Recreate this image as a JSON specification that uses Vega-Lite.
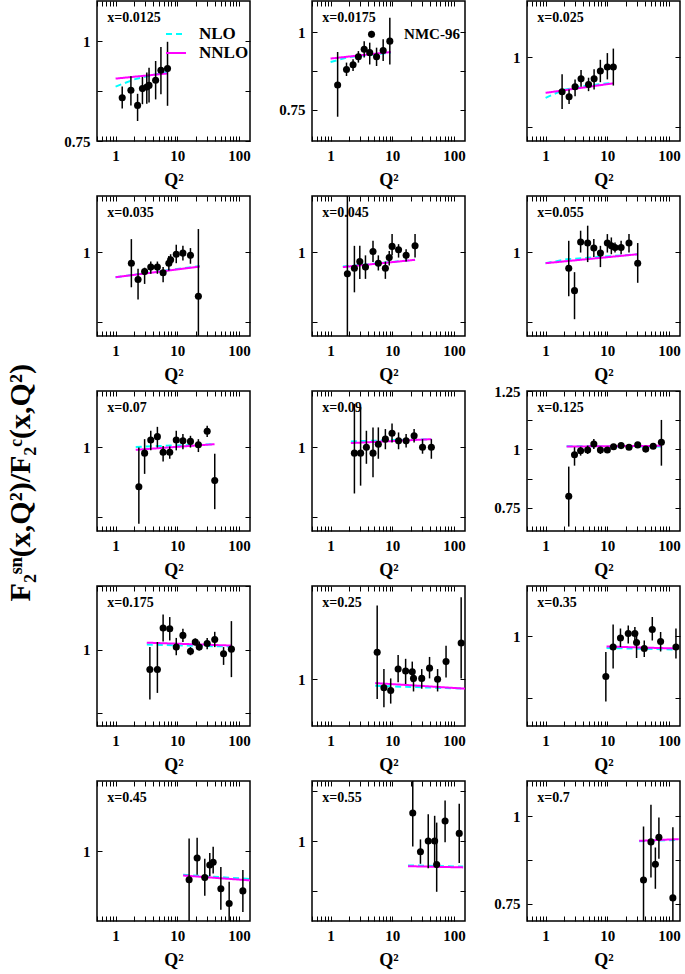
{
"$schema": "https://vega.github.io/schema/vega-lite/v6.json",
"padding": {"left": 5, "top": -1, "right": 0, "bottom": 0},
"background": "white",
"title": {"text": "F₂ˢⁿ(x,Q²)/F₂ᶜ(x,Q²)", "orient": "left", "anchor": "middle", "font": "Liberation Serif", "fontWeight": "bold", "fontSize": 30, "offset": 27, "dx": 2, "color": "black"},
"config": {
 "view": {"stroke": "black", "strokeWidth": 1.5},
 "axis": {"grid": false, "domain": false, "ticks": true, "tickColor": "black", "tickWidth": 1, "tickSize": -5, "labelFont": "Liberation Serif", "labelFontWeight": "bold", "labelFontSize": 15, "labelColor": "black", "titleFont": "Liberation Serif", "titleFontWeight": "bold", "titleFontSize": 18, "titleColor": "black"},
 "legend": {"labelFont": "Liberation Serif", "labelFontWeight": "bold", "labelFontSize": 17, "labelColor": "black"}
},
"datasets": {
"pts": [
{"p":"0.0125","Q2":1.28,"r":0.858,"lo":0.831,"hi":0.886},
{"p":"0.0125","Q2":1.77,"r":0.877,"lo":0.839,"hi":0.912},
{"p":"0.0125","Q2":2.27,"r":0.839,"lo":0.800,"hi":0.868},
{"p":"0.0125","Q2":2.72,"r":0.881,"lo":0.842,"hi":0.910},
{"p":"0.0125","Q2":3.2,"r":0.885,"lo":0.843,"hi":0.921},
{"p":"0.0125","Q2":3.48,"r":0.889,"lo":0.846,"hi":0.933},
{"p":"0.0125","Q2":4.45,"r":0.902,"lo":0.854,"hi":0.950},
{"p":"0.0125","Q2":5.42,"r":0.927,"lo":0.867,"hi":0.985},
{"p":"0.0125","Q2":6.93,"r":0.931,"lo":0.838,"hi":0.998},
{"p":"0.0175","Q2":1.30,"r":0.830,"lo":0.728,"hi":0.936},
{"p":"0.0175","Q2":1.81,"r":0.880,"lo":0.859,"hi":0.902},
{"p":"0.0175","Q2":2.31,"r":0.895,"lo":0.875,"hi":0.913},
{"p":"0.0175","Q2":2.82,"r":0.921,"lo":0.902,"hi":0.939},
{"p":"0.0175","Q2":3.5,"r":0.945,"lo":0.918,"hi":0.971},
{"p":"0.0175","Q2":4.3,"r":0.934,"lo":0.896,"hi":0.966},
{"p":"0.0175","Q2":4.6,"r":0.993,"lo":0.982,"hi":1.004},
{"p":"0.0175","Q2":5.55,"r":0.921,"lo":0.891,"hi":0.950},
{"p":"0.0175","Q2":7.1,"r":0.941,"lo":0.907,"hi":0.977},
{"p":"0.0175","Q2":9.1,"r":0.971,"lo":0.896,"hi":1.046},
{"p":"0.025","Q2":1.85,"r":0.938,"lo":0.907,"hi":0.969},
{"p":"0.025","Q2":2.4,"r":0.929,"lo":0.916,"hi":0.942},
{"p":"0.025","Q2":3.0,"r":0.947,"lo":0.930,"hi":0.960},
{"p":"0.025","Q2":3.75,"r":0.961,"lo":0.947,"hi":0.977},
{"p":"0.025","Q2":4.96,"r":0.951,"lo":0.939,"hi":0.963},
{"p":"0.025","Q2":6.1,"r":0.961,"lo":0.942,"hi":0.978},
{"p":"0.025","Q2":7.7,"r":0.975,"lo":0.955,"hi":0.995},
{"p":"0.025","Q2":10.0,"r":0.982,"lo":0.960,"hi":1.007},
{"p":"0.025","Q2":12.5,"r":0.982,"lo":0.949,"hi":1.015},
{"p":"0.035","Q2":1.8,"r":0.980,"lo":0.937,"hi":1.023},
{"p":"0.035","Q2":2.31,"r":0.951,"lo":0.915,"hi":0.970},
{"p":"0.035","Q2":2.95,"r":0.965,"lo":0.943,"hi":0.972},
{"p":"0.035","Q2":3.71,"r":0.973,"lo":0.961,"hi":0.983},
{"p":"0.035","Q2":4.75,"r":0.973,"lo":0.961,"hi":0.983},
{"p":"0.035","Q2":5.88,"r":0.963,"lo":0.946,"hi":0.973},
{"p":"0.035","Q2":7.28,"r":0.980,"lo":0.967,"hi":0.993},
{"p":"0.035","Q2":7.78,"r":0.986,"lo":0.976,"hi":0.996},
{"p":"0.035","Q2":9.6,"r":0.996,"lo":0.980,"hi":1.013},
{"p":"0.035","Q2":12.3,"r":0.998,"lo":0.985,"hi":1.011},
{"p":"0.035","Q2":16.3,"r":0.994,"lo":0.979,"hi":1.007},
{"p":"0.035","Q2":21.9,"r":0.921,"lo":0.840,"hi":1.041},
{"p":"0.045","Q2":1.87,"r":0.961,"lo":0.840,"hi":1.120},
{"p":"0.045","Q2":2.43,"r":0.971,"lo":0.928,"hi":1.011},
{"p":"0.045","Q2":2.97,"r":0.983,"lo":0.952,"hi":1.011},
{"p":"0.045","Q2":3.67,"r":0.973,"lo":0.952,"hi":0.994},
{"p":"0.045","Q2":4.86,"r":1.001,"lo":0.982,"hi":1.020},
{"p":"0.045","Q2":5.93,"r":0.980,"lo":0.967,"hi":0.994},
{"p":"0.045","Q2":7.71,"r":0.971,"lo":0.952,"hi":0.983},
{"p":"0.045","Q2":8.9,"r":0.990,"lo":0.976,"hi":1.002},
{"p":"0.045","Q2":9.9,"r":1.010,"lo":0.994,"hi":1.032},
{"p":"0.045","Q2":12.6,"r":1.004,"lo":0.990,"hi":1.014},
{"p":"0.045","Q2":16.7,"r":0.994,"lo":0.983,"hi":1.005},
{"p":"0.045","Q2":23.3,"r":1.011,"lo":0.990,"hi":1.032},
{"p":"0.055","Q2":2.37,"r":0.971,"lo":0.921,"hi":1.020},
{"p":"0.055","Q2":2.94,"r":0.931,"lo":0.880,"hi":0.964},
{"p":"0.055","Q2":3.69,"r":1.018,"lo":0.999,"hi":1.038},
{"p":"0.055","Q2":4.8,"r":1.016,"lo":0.982,"hi":1.047},
{"p":"0.055","Q2":6.04,"r":1.007,"lo":0.991,"hi":1.023},
{"p":"0.055","Q2":7.72,"r":0.998,"lo":0.973,"hi":1.011},
{"p":"0.055","Q2":10.0,"r":1.016,"lo":0.999,"hi":1.032},
{"p":"0.055","Q2":11.6,"r":1.011,"lo":0.996,"hi":1.026},
{"p":"0.055","Q2":13.3,"r":1.008,"lo":0.999,"hi":1.017},
{"p":"0.055","Q2":16.7,"r":1.008,"lo":0.996,"hi":1.020},
{"p":"0.055","Q2":22.4,"r":1.016,"lo":0.999,"hi":1.032},
{"p":"0.055","Q2":31,"r":0.980,"lo":0.945,"hi":1.016},
{"p":"0.07","Q2":2.38,"r":0.929,"lo":0.863,"hi":0.999},
{"p":"0.07","Q2":2.95,"r":0.989,"lo":0.952,"hi":1.014},
{"p":"0.07","Q2":3.71,"r":1.0125,"lo":0.994,"hi":1.029},
{"p":"0.07","Q2":4.75,"r":1.0185,"lo":0.999,"hi":1.036},
{"p":"0.07","Q2":5.88,"r":0.9905,"lo":0.974,"hi":1.002},
{"p":"0.07","Q2":7.53,"r":0.9905,"lo":0.979,"hi":1.001},
{"p":"0.07","Q2":9.6,"r":1.0125,"lo":0.994,"hi":1.029},
{"p":"0.07","Q2":12.3,"r":1.011,"lo":0.996,"hi":1.023},
{"p":"0.07","Q2":16.3,"r":1.010,"lo":0.999,"hi":1.020},
{"p":"0.07","Q2":21.9,"r":1.004,"lo":0.991,"hi":1.014},
{"p":"0.07","Q2":30.4,"r":1.028,"lo":1.018,"hi":1.038},
{"p":"0.07","Q2":40.3,"r":0.940,"lo":0.889,"hi":0.988},
{"p":"0.09","Q2":2.43,"r":0.989,"lo":0.917,"hi":1.077},
{"p":"0.09","Q2":3.06,"r":0.989,"lo":0.931,"hi":1.071},
{"p":"0.09","Q2":3.8,"r":0.9995,"lo":0.970,"hi":1.029},
{"p":"0.09","Q2":4.86,"r":0.989,"lo":0.946,"hi":1.035},
{"p":"0.09","Q2":5.93,"r":1.005,"lo":0.979,"hi":1.035},
{"p":"0.09","Q2":7.71,"r":1.014,"lo":0.996,"hi":1.032},
{"p":"0.09","Q2":9.88,"r":1.0245,"lo":1.008,"hi":1.042},
{"p":"0.09","Q2":12.6,"r":1.011,"lo":0.996,"hi":1.026},
{"p":"0.09","Q2":16.7,"r":1.011,"lo":0.999,"hi":1.023},
{"p":"0.09","Q2":22.5,"r":1.020,"lo":1.008,"hi":1.032},
{"p":"0.09","Q2":30.8,"r":0.9995,"lo":0.988,"hi":1.014},
{"p":"0.09","Q2":42.8,"r":0.9995,"lo":0.979,"hi":1.014},
{"p":"0.125","Q2":2.37,"r":0.799,"lo":0.669,"hi":0.926},
{"p":"0.125","Q2":2.94,"r":0.977,"lo":0.930,"hi":1.009},
{"p":"0.125","Q2":3.69,"r":0.994,"lo":0.973,"hi":1.011},
{"p":"0.125","Q2":4.8,"r":0.997,"lo":0.980,"hi":1.016},
{"p":"0.125","Q2":6.04,"r":1.023,"lo":1.001,"hi":1.044},
{"p":"0.125","Q2":7.72,"r":0.997,"lo":0.980,"hi":1.011},
{"p":"0.125","Q2":10.0,"r":0.997,"lo":0.987,"hi":1.007},
{"p":"0.125","Q2":12.6,"r":1.011,"lo":1.001,"hi":1.021},
{"p":"0.125","Q2":16.7,"r":1.016,"lo":1.006,"hi":1.026},
{"p":"0.125","Q2":22.4,"r":1.009,"lo":0.999,"hi":1.019},
{"p":"0.125","Q2":31,"r":1.019,"lo":1.009,"hi":1.029},
{"p":"0.125","Q2":41.8,"r":1.001,"lo":0.991,"hi":1.011},
{"p":"0.125","Q2":55.2,"r":1.013,"lo":1.003,"hi":1.023},
{"p":"0.125","Q2":75,"r":1.030,"lo":0.930,"hi":1.126},
{"p":"0.175","Q2":3.59,"r":0.961,"lo":0.902,"hi":1.005},
{"p":"0.175","Q2":4.75,"r":0.961,"lo":0.915,"hi":1.015},
{"p":"0.175","Q2":5.88,"r":1.0425,"lo":1.016,"hi":1.069},
{"p":"0.175","Q2":7.53,"r":1.041,"lo":1.018,"hi":1.064},
{"p":"0.175","Q2":9.6,"r":1.005,"lo":0.989,"hi":1.023},
{"p":"0.175","Q2":12.3,"r":1.028,"lo":1.015,"hi":1.041},
{"p":"0.175","Q2":16.3,"r":0.997,"lo":0.989,"hi":1.005},
{"p":"0.175","Q2":19.5,"r":1.015,"lo":1.008,"hi":1.022},
{"p":"0.175","Q2":22.6,"r":1.005,"lo":0.999,"hi":1.016},
{"p":"0.175","Q2":30.4,"r":1.012,"lo":1.001,"hi":1.023},
{"p":"0.175","Q2":40.3,"r":1.020,"lo":1.005,"hi":1.035},
{"p":"0.175","Q2":56,"r":0.992,"lo":0.970,"hi":1.005},
{"p":"0.175","Q2":75,"r":1.001,"lo":0.946,"hi":1.056},
{"p":"0.25","Q2":5.68,"r":1.029,"lo":0.979,"hi":1.079},
{"p":"0.25","Q2":7.3,"r":0.991,"lo":0.970,"hi":1.011},
{"p":"0.25","Q2":9.4,"r":0.988,"lo":0.974,"hi":1.001},
{"p":"0.25","Q2":12.4,"r":1.011,"lo":0.997,"hi":1.026},
{"p":"0.25","Q2":16.4,"r":1.009,"lo":0.995,"hi":1.022},
{"p":"0.25","Q2":21,"r":1.008,"lo":0.997,"hi":1.019},
{"p":"0.25","Q2":22,"r":1.001,"lo":0.987,"hi":1.011},
{"p":"0.25","Q2":29.9,"r":1.001,"lo":0.990,"hi":1.011},
{"p":"0.25","Q2":40,"r":1.012,"lo":1.001,"hi":1.024},
{"p":"0.25","Q2":54,"r":1.000,"lo":0.987,"hi":1.011},
{"p":"0.25","Q2":74,"r":1.019,"lo":1.002,"hi":1.036},
{"p":"0.25","Q2":130,"r":1.039,"lo":1.001,"hi":1.088},
{"p":"0.35","Q2":9.45,"r":0.919,"lo":0.869,"hi":0.968},
{"p":"0.35","Q2":12.4,"r":0.978,"lo":0.935,"hi":1.023},
{"p":"0.35","Q2":16.3,"r":0.996,"lo":0.978,"hi":1.015},
{"p":"0.35","Q2":21.8,"r":1.005,"lo":0.985,"hi":1.021},
{"p":"0.35","Q2":27.9,"r":1.005,"lo":0.988,"hi":1.018},
{"p":"0.35","Q2":29.7,"r":0.987,"lo":0.956,"hi":1.008},
{"p":"0.35","Q2":39.6,"r":0.975,"lo":0.958,"hi":0.991},
{"p":"0.35","Q2":53.4,"r":1.013,"lo":0.991,"hi":1.038},
{"p":"0.35","Q2":72.8,"r":0.989,"lo":0.969,"hi":1.008},
{"p":"0.35","Q2":129,"r":0.978,"lo":0.955,"hi":1.015},
{"p":"0.45","Q2":15.5,"r":0.959,"lo":0.890,"hi":1.018},
{"p":"0.45","Q2":20.9,"r":0.990,"lo":0.966,"hi":1.019},
{"p":"0.45","Q2":27.8,"r":0.962,"lo":0.936,"hi":0.989},
{"p":"0.45","Q2":33.5,"r":0.980,"lo":0.964,"hi":0.997},
{"p":"0.45","Q2":38,"r":0.984,"lo":0.968,"hi":1.006},
{"p":"0.45","Q2":50.6,"r":0.946,"lo":0.916,"hi":0.977},
{"p":"0.45","Q2":69,"r":0.925,"lo":0.890,"hi":0.956},
{"p":"0.45","Q2":115,"r":0.943,"lo":0.913,"hi":0.973},
{"p":"0.55","Q2":21.4,"r":1.070,"lo":0.986,"hi":1.170},
{"p":"0.55","Q2":28.5,"r":0.973,"lo":0.943,"hi":1.004},
{"p":"0.55","Q2":38.1,"r":1.000,"lo":0.932,"hi":1.067},
{"p":"0.55","Q2":48.4,"r":1.000,"lo":0.937,"hi":1.063},
{"p":"0.55","Q2":52.2,"r":0.941,"lo":0.873,"hi":1.046},
{"p":"0.55","Q2":71.4,"r":1.050,"lo":0.997,"hi":1.101},
{"p":"0.55","Q2":121,"r":1.019,"lo":0.945,"hi":1.093},
{"p":"0.7","Q2":38.5,"r":0.817,"lo":0.690,"hi":0.970},
{"p":"0.7","Q2":50.8,"r":0.926,"lo":0.824,"hi":1.032},
{"p":"0.7","Q2":59.9,"r":0.862,"lo":0.792,"hi":0.910},
{"p":"0.7","Q2":68.3,"r":0.939,"lo":0.878,"hi":0.996},
{"p":"0.7","Q2":115,"r":0.766,"lo":0.690,"hi":0.968}
],
"th": [
{"p":"0.0125","model":"NLO","Q2":1,"r":0.886},{"p":"0.0125","model":"NLO","Q2":2,"r":0.904},{"p":"0.0125","model":"NLO","Q2":4,"r":0.915},{"p":"0.0125","model":"NLO","Q2":7,"r":0.9225},
{"p":"0.0125","model":"NNLO","Q2":1,"r":0.906},{"p":"0.0125","model":"NNLO","Q2":7,"r":0.919},
{"p":"0.0175","model":"NLO","Q2":1,"r":0.904},{"p":"0.0175","model":"NLO","Q2":2,"r":0.920},{"p":"0.0175","model":"NLO","Q2":9.4,"r":0.934},
{"p":"0.0175","model":"NNLO","Q2":1,"r":0.915},{"p":"0.0175","model":"NNLO","Q2":9.4,"r":0.936},
{"p":"0.025","model":"NLO","Q2":1,"r":0.927},{"p":"0.025","model":"NLO","Q2":1.9,"r":0.941},{"p":"0.025","model":"NLO","Q2":4,"r":0.948},{"p":"0.025","model":"NLO","Q2":12.5,"r":0.954},
{"p":"0.025","model":"NNLO","Q2":1,"r":0.936},{"p":"0.025","model":"NNLO","Q2":12.5,"r":0.953},
{"p":"0.035","model":"NLO","Q2":1,"r":0.955},{"p":"0.035","model":"NLO","Q2":23,"r":0.975},
{"p":"0.035","model":"NNLO","Q2":1,"r":0.955},{"p":"0.035","model":"NNLO","Q2":23,"r":0.974},
{"p":"0.045","model":"NLO","Q2":1.58,"r":0.974},{"p":"0.045","model":"NLO","Q2":23.3,"r":0.986},
{"p":"0.045","model":"NNLO","Q2":1.58,"r":0.973},{"p":"0.045","model":"NNLO","Q2":23.3,"r":0.986},
{"p":"0.055","model":"NLO","Q2":1,"r":0.980},{"p":"0.055","model":"NLO","Q2":2.2,"r":0.987},{"p":"0.055","model":"NLO","Q2":31,"r":0.996},
{"p":"0.055","model":"NNLO","Q2":1,"r":0.980},{"p":"0.055","model":"NNLO","Q2":31,"r":0.996},
{"p":"0.07","model":"NLO","Q2":2.12,"r":1.000},{"p":"0.07","model":"NLO","Q2":3,"r":1.001},{"p":"0.07","model":"NLO","Q2":40,"r":1.005},
{"p":"0.07","model":"NNLO","Q2":2.12,"r":0.995},{"p":"0.07","model":"NNLO","Q2":40,"r":1.005},
{"p":"0.09","model":"NLO","Q2":2.13,"r":1.010},{"p":"0.09","model":"NLO","Q2":42.8,"r":1.014},
{"p":"0.09","model":"NNLO","Q2":2.13,"r":1.007},{"p":"0.09","model":"NNLO","Q2":42.8,"r":1.014},
{"p":"0.125","model":"NLO","Q2":2.19,"r":1.013},{"p":"0.125","model":"NLO","Q2":75,"r":1.012},
{"p":"0.125","model":"NNLO","Q2":2.19,"r":1.012},{"p":"0.125","model":"NNLO","Q2":75,"r":1.015},
{"p":"0.175","model":"NLO","Q2":3.2,"r":1.010},{"p":"0.175","model":"NLO","Q2":75,"r":1.006},
{"p":"0.175","model":"NNLO","Q2":3.2,"r":1.0137},{"p":"0.175","model":"NNLO","Q2":75,"r":1.008},
{"p":"0.25","model":"NLO","Q2":5.27,"r":0.993},{"p":"0.25","model":"NLO","Q2":150,"r":0.990},
{"p":"0.25","model":"NNLO","Q2":5.27,"r":0.996},{"p":"0.25","model":"NNLO","Q2":150,"r":0.990},
{"p":"0.35","model":"NLO","Q2":9.7,"r":0.976},{"p":"0.35","model":"NLO","Q2":129,"r":0.973},
{"p":"0.35","model":"NNLO","Q2":9.7,"r":0.979},{"p":"0.35","model":"NNLO","Q2":129,"r":0.975},
{"p":"0.45","model":"NLO","Q2":12.4,"r":0.966},{"p":"0.45","model":"NLO","Q2":150,"r":0.960},
{"p":"0.45","model":"NNLO","Q2":12.4,"r":0.965},{"p":"0.45","model":"NNLO","Q2":150,"r":0.958},
{"p":"0.55","model":"NLO","Q2":17.9,"r":0.939},{"p":"0.55","model":"NLO","Q2":140,"r":0.936},
{"p":"0.55","model":"NNLO","Q2":17.9,"r":0.937},{"p":"0.55","model":"NNLO","Q2":140,"r":0.934},
{"p":"0.7","model":"NLO","Q2":32.7,"r":0.928},{"p":"0.7","model":"NLO","Q2":143,"r":0.932},
{"p":"0.7","model":"NNLO","Q2":32.7,"r":0.929},{"p":"0.7","model":"NNLO","Q2":143,"r":0.934}
]
},
"columns": 3,
"spacing": {"row": 55, "column": 62},
"bounds": "flush",
"concat": [
{"width":153,"height":140,"resolve":{"axis":{"x":"independent","y":"independent"}},"layer":[
 {"data":{"name":"th"},"transform":[{"filter":"datum.p == '0.0125'"}],"mark":{"type":"line","strokeWidth":2,"clip":true},"encoding":{"x":{"field":"Q2","type":"quantitative","scale":{"type":"log","domain":[0.5,150],"nice":false},"axis":{"orient":"bottom","values":[0.5,0.6,0.7,0.8,0.9,1,2,3,4,5,6,7,8,9,10,20,30,40,50,60,70,80,90,100],"labelExpr":"datum.value == 1 || datum.value == 10 || datum.value == 100 ? format(datum.value, 'd') : ''","labelPadding":12,"title":"Q²","titlePadding":8}},"y":{"field":"r","type":"quantitative","scale":{"domain":[0.75,1.1],"nice":false,"zero":false},"axis":{"orient":"left","values":[0.75,0.875,1],"labelExpr":"datum.value == 0.75 || datum.value == 1 || datum.value == 1.25 ? format(datum.value, '~g') : ''","labelPadding":12,"title":null}},"color":{"field":"model","type":"nominal","scale":{"domain":["NLO","NNLO"],"range":["#00ffff","#ff00ff"]},"legend":{"orient":"none","legendX":68,"legendY":22,"title":null,"symbolType":"stroke","symbolSize":400,"symbolStrokeWidth":2,"labelOffset":12,"rowPadding":0}},"strokeDash":{"field":"model","type":"nominal","scale":{"domain":["NLO","NNLO"],"range":[[6,4],[1,0]]},"legend":{"orient":"none","legendX":68,"legendY":22,"title":null,"symbolType":"stroke","symbolSize":400,"symbolStrokeWidth":2,"labelOffset":12,"rowPadding":0}}}},
 {"data":{"name":"pts"},"transform":[{"filter":"datum.p == '0.0125'"}],"mark":{"type":"rule","strokeWidth":1.5,"color":"black","clip":true},"encoding":{"x":{"field":"Q2","type":"quantitative","scale":{"type":"log","domain":[0.5,150],"nice":false},"axis":{"orient":"top","values":[0.5,0.6,0.7,0.8,0.9,1,2,3,4,5,6,7,8,9,10,20,30,40,50,60,70,80,90,100],"labels":false,"title":null}},"y":{"field":"lo","type":"quantitative","scale":{"domain":[0.75,1.1],"nice":false,"zero":false},"axis":{"orient":"right","values":[0.75,0.875,1],"labels":false,"title":null}},"y2":{"field":"hi"}}},
 {"data":{"name":"pts"},"transform":[{"filter":"datum.p == '0.0125'"}],"mark":{"type":"circle","size":50,"color":"black","opacity":1},"encoding":{"x":{"field":"Q2","type":"quantitative","scale":{"type":"log","domain":[0.5,150],"nice":false},"axis":null},"y":{"field":"r","type":"quantitative","scale":{"domain":[0.75,1.1],"nice":false,"zero":false},"axis":null}}},
 {"data":{"values":[{}]},"mark":{"type":"text","text":"x=0.0125","align":"left","baseline":"middle","font":"Liberation Serif","fontWeight":"bold","fontSize":14,"color":"black"},"encoding":{"x":{"datum":0.73,"type":"quantitative","scale":{"type":"log","domain":[0.5,150],"nice":false},"axis":null},"y":{"datum":1.0575,"type":"quantitative","scale":{"domain":[0.75,1.1],"nice":false,"zero":false},"axis":null}}}
]},
{"width":153,"height":140,"resolve":{"axis":{"x":"independent","y":"independent"}},"layer":[
 {"data":{"name":"th"},"transform":[{"filter":"datum.p == '0.0175'"}],"mark":{"type":"line","strokeWidth":2,"clip":true},"encoding":{"x":{"field":"Q2","type":"quantitative","scale":{"type":"log","domain":[0.5,150],"nice":false},"axis":{"orient":"bottom","values":[0.5,0.6,0.7,0.8,0.9,1,2,3,4,5,6,7,8,9,10,20,30,40,50,60,70,80,90,100],"labelExpr":"datum.value == 1 || datum.value == 10 || datum.value == 100 ? format(datum.value, 'd') : ''","labelPadding":12,"title":"Q²","titlePadding":8}},"y":{"field":"r","type":"quantitative","scale":{"domain":[0.65,1.1],"nice":false,"zero":false},"axis":{"orient":"left","values":[0.75,0.875,1],"labelExpr":"datum.value == 0.75 || datum.value == 1 || datum.value == 1.25 ? format(datum.value, '~g') : ''","labelPadding":12,"title":null}},"color":{"field":"model","type":"nominal","scale":{"domain":["NLO","NNLO"],"range":["#00ffff","#ff00ff"]},"legend":null},"strokeDash":{"field":"model","type":"nominal","scale":{"domain":["NLO","NNLO"],"range":[[6,4],[1,0]]},"legend":null}}},
 {"data":{"name":"pts"},"transform":[{"filter":"datum.p == '0.0175'"}],"mark":{"type":"rule","strokeWidth":1.5,"color":"black","clip":true},"encoding":{"x":{"field":"Q2","type":"quantitative","scale":{"type":"log","domain":[0.5,150],"nice":false},"axis":{"orient":"top","values":[0.5,0.6,0.7,0.8,0.9,1,2,3,4,5,6,7,8,9,10,20,30,40,50,60,70,80,90,100],"labels":false,"title":null}},"y":{"field":"lo","type":"quantitative","scale":{"domain":[0.65,1.1],"nice":false,"zero":false},"axis":{"orient":"right","values":[0.75,0.875,1],"labels":false,"title":null}},"y2":{"field":"hi"}}},
 {"data":{"name":"pts"},"transform":[{"filter":"datum.p == '0.0175'"}],"mark":{"type":"circle","size":50,"color":"black","opacity":1},"encoding":{"x":{"field":"Q2","type":"quantitative","scale":{"type":"log","domain":[0.5,150],"nice":false},"axis":null},"y":{"field":"r","type":"quantitative","scale":{"domain":[0.65,1.1],"nice":false,"zero":false},"axis":null}}},
 {"data":{"values":[{}]},"mark":{"type":"text","text":"x=0.0175","align":"left","baseline":"middle","font":"Liberation Serif","fontWeight":"bold","fontSize":14,"color":"black"},"encoding":{"x":{"datum":0.73,"type":"quantitative","scale":{"type":"log","domain":[0.5,150],"nice":false},"axis":null},"y":{"datum":1.045,"type":"quantitative","scale":{"domain":[0.65,1.1],"nice":false,"zero":false},"axis":null}}},
 {"data":{"values":[{}]},"mark":{"type":"text","text":"NMC-96","align":"left","baseline":"middle","font":"Liberation Serif","fontWeight":"bold","fontSize":15,"color":"black"},"encoding":{"x":{"datum":15.5,"type":"quantitative","scale":{"type":"log","domain":[0.5,150],"nice":false},"axis":null},"y":{"datum":0.994,"type":"quantitative","scale":{"domain":[0.65,1.1],"nice":false,"zero":false},"axis":null}}}
]},
{"width":153,"height":140,"resolve":{"axis":{"x":"independent","y":"independent"}},"layer":[
 {"data":{"name":"th"},"transform":[{"filter":"datum.p == '0.025'"}],"mark":{"type":"line","strokeWidth":2,"clip":true},"encoding":{"x":{"field":"Q2","type":"quantitative","scale":{"type":"log","domain":[0.5,150],"nice":false},"axis":{"orient":"bottom","values":[0.5,0.6,0.7,0.8,0.9,1,2,3,4,5,6,7,8,9,10,20,30,40,50,60,70,80,90,100],"labelExpr":"datum.value == 1 || datum.value == 10 || datum.value == 100 ? format(datum.value, 'd') : ''","labelPadding":12,"title":"Q²","titlePadding":8}},"y":{"field":"r","type":"quantitative","scale":{"domain":[0.85,1.1],"nice":false,"zero":false},"axis":{"orient":"left","values":[0.875,1],"labelExpr":"datum.value == 0.75 || datum.value == 1 || datum.value == 1.25 ? format(datum.value, '~g') : ''","labelPadding":12,"title":null}},"color":{"field":"model","type":"nominal","scale":{"domain":["NLO","NNLO"],"range":["#00ffff","#ff00ff"]},"legend":null},"strokeDash":{"field":"model","type":"nominal","scale":{"domain":["NLO","NNLO"],"range":[[6,4],[1,0]]},"legend":null}}},
 {"data":{"name":"pts"},"transform":[{"filter":"datum.p == '0.025'"}],"mark":{"type":"rule","strokeWidth":1.5,"color":"black","clip":true},"encoding":{"x":{"field":"Q2","type":"quantitative","scale":{"type":"log","domain":[0.5,150],"nice":false},"axis":{"orient":"top","values":[0.5,0.6,0.7,0.8,0.9,1,2,3,4,5,6,7,8,9,10,20,30,40,50,60,70,80,90,100],"labels":false,"title":null}},"y":{"field":"lo","type":"quantitative","scale":{"domain":[0.85,1.1],"nice":false,"zero":false},"axis":{"orient":"right","values":[0.875,1],"labels":false,"title":null}},"y2":{"field":"hi"}}},
 {"data":{"name":"pts"},"transform":[{"filter":"datum.p == '0.025'"}],"mark":{"type":"circle","size":50,"color":"black","opacity":1},"encoding":{"x":{"field":"Q2","type":"quantitative","scale":{"type":"log","domain":[0.5,150],"nice":false},"axis":null},"y":{"field":"r","type":"quantitative","scale":{"domain":[0.85,1.1],"nice":false,"zero":false},"axis":null}}},
 {"data":{"values":[{}]},"mark":{"type":"text","text":"x=0.025","align":"left","baseline":"middle","font":"Liberation Serif","fontWeight":"bold","fontSize":14,"color":"black"},"encoding":{"x":{"datum":0.73,"type":"quantitative","scale":{"type":"log","domain":[0.5,150],"nice":false},"axis":null},"y":{"datum":1.07,"type":"quantitative","scale":{"domain":[0.85,1.1],"nice":false,"zero":false},"axis":null}}}
]},
{"width":153,"height":140,"resolve":{"axis":{"x":"independent","y":"independent"}},"layer":[
 {"data":{"name":"th"},"transform":[{"filter":"datum.p == '0.035'"}],"mark":{"type":"line","strokeWidth":2,"clip":true},"encoding":{"x":{"field":"Q2","type":"quantitative","scale":{"type":"log","domain":[0.5,150],"nice":false},"axis":{"orient":"bottom","values":[0.5,0.6,0.7,0.8,0.9,1,2,3,4,5,6,7,8,9,10,20,30,40,50,60,70,80,90,100],"labelExpr":"datum.value == 1 || datum.value == 10 || datum.value == 100 ? format(datum.value, 'd') : ''","labelPadding":12,"title":"Q²","titlePadding":8}},"y":{"field":"r","type":"quantitative","scale":{"domain":[0.85,1.1],"nice":false,"zero":false},"axis":{"orient":"left","values":[0.875,1],"labelExpr":"datum.value == 0.75 || datum.value == 1 || datum.value == 1.25 ? format(datum.value, '~g') : ''","labelPadding":12,"title":null}},"color":{"field":"model","type":"nominal","scale":{"domain":["NLO","NNLO"],"range":["#00ffff","#ff00ff"]},"legend":null},"strokeDash":{"field":"model","type":"nominal","scale":{"domain":["NLO","NNLO"],"range":[[6,4],[1,0]]},"legend":null}}},
 {"data":{"name":"pts"},"transform":[{"filter":"datum.p == '0.035'"}],"mark":{"type":"rule","strokeWidth":1.5,"color":"black","clip":true},"encoding":{"x":{"field":"Q2","type":"quantitative","scale":{"type":"log","domain":[0.5,150],"nice":false},"axis":{"orient":"top","values":[0.5,0.6,0.7,0.8,0.9,1,2,3,4,5,6,7,8,9,10,20,30,40,50,60,70,80,90,100],"labels":false,"title":null}},"y":{"field":"lo","type":"quantitative","scale":{"domain":[0.85,1.1],"nice":false,"zero":false},"axis":{"orient":"right","values":[0.875,1],"labels":false,"title":null}},"y2":{"field":"hi"}}},
 {"data":{"name":"pts"},"transform":[{"filter":"datum.p == '0.035'"}],"mark":{"type":"circle","size":50,"color":"black","opacity":1},"encoding":{"x":{"field":"Q2","type":"quantitative","scale":{"type":"log","domain":[0.5,150],"nice":false},"axis":null},"y":{"field":"r","type":"quantitative","scale":{"domain":[0.85,1.1],"nice":false,"zero":false},"axis":null}}},
 {"data":{"values":[{}]},"mark":{"type":"text","text":"x=0.035","align":"left","baseline":"middle","font":"Liberation Serif","fontWeight":"bold","fontSize":14,"color":"black"},"encoding":{"x":{"datum":0.73,"type":"quantitative","scale":{"type":"log","domain":[0.5,150],"nice":false},"axis":null},"y":{"datum":1.07,"type":"quantitative","scale":{"domain":[0.85,1.1],"nice":false,"zero":false},"axis":null}}}
]},
{"width":153,"height":140,"resolve":{"axis":{"x":"independent","y":"independent"}},"layer":[
 {"data":{"name":"th"},"transform":[{"filter":"datum.p == '0.045'"}],"mark":{"type":"line","strokeWidth":2,"clip":true},"encoding":{"x":{"field":"Q2","type":"quantitative","scale":{"type":"log","domain":[0.5,150],"nice":false},"axis":{"orient":"bottom","values":[0.5,0.6,0.7,0.8,0.9,1,2,3,4,5,6,7,8,9,10,20,30,40,50,60,70,80,90,100],"labelExpr":"datum.value == 1 || datum.value == 10 || datum.value == 100 ? format(datum.value, 'd') : ''","labelPadding":12,"title":"Q²","titlePadding":8}},"y":{"field":"r","type":"quantitative","scale":{"domain":[0.85,1.1],"nice":false,"zero":false},"axis":{"orient":"left","values":[0.875,1],"labelExpr":"datum.value == 0.75 || datum.value == 1 || datum.value == 1.25 ? format(datum.value, '~g') : ''","labelPadding":12,"title":null}},"color":{"field":"model","type":"nominal","scale":{"domain":["NLO","NNLO"],"range":["#00ffff","#ff00ff"]},"legend":null},"strokeDash":{"field":"model","type":"nominal","scale":{"domain":["NLO","NNLO"],"range":[[6,4],[1,0]]},"legend":null}}},
 {"data":{"name":"pts"},"transform":[{"filter":"datum.p == '0.045'"}],"mark":{"type":"rule","strokeWidth":1.5,"color":"black","clip":true},"encoding":{"x":{"field":"Q2","type":"quantitative","scale":{"type":"log","domain":[0.5,150],"nice":false},"axis":{"orient":"top","values":[0.5,0.6,0.7,0.8,0.9,1,2,3,4,5,6,7,8,9,10,20,30,40,50,60,70,80,90,100],"labels":false,"title":null}},"y":{"field":"lo","type":"quantitative","scale":{"domain":[0.85,1.1],"nice":false,"zero":false},"axis":{"orient":"right","values":[0.875,1],"labels":false,"title":null}},"y2":{"field":"hi"}}},
 {"data":{"name":"pts"},"transform":[{"filter":"datum.p == '0.045'"}],"mark":{"type":"circle","size":50,"color":"black","opacity":1},"encoding":{"x":{"field":"Q2","type":"quantitative","scale":{"type":"log","domain":[0.5,150],"nice":false},"axis":null},"y":{"field":"r","type":"quantitative","scale":{"domain":[0.85,1.1],"nice":false,"zero":false},"axis":null}}},
 {"data":{"values":[{}]},"mark":{"type":"text","text":"x=0.045","align":"left","baseline":"middle","font":"Liberation Serif","fontWeight":"bold","fontSize":14,"color":"black"},"encoding":{"x":{"datum":0.73,"type":"quantitative","scale":{"type":"log","domain":[0.5,150],"nice":false},"axis":null},"y":{"datum":1.07,"type":"quantitative","scale":{"domain":[0.85,1.1],"nice":false,"zero":false},"axis":null}}}
]},
{"width":153,"height":140,"resolve":{"axis":{"x":"independent","y":"independent"}},"layer":[
 {"data":{"name":"th"},"transform":[{"filter":"datum.p == '0.055'"}],"mark":{"type":"line","strokeWidth":2,"clip":true},"encoding":{"x":{"field":"Q2","type":"quantitative","scale":{"type":"log","domain":[0.5,150],"nice":false},"axis":{"orient":"bottom","values":[0.5,0.6,0.7,0.8,0.9,1,2,3,4,5,6,7,8,9,10,20,30,40,50,60,70,80,90,100],"labelExpr":"datum.value == 1 || datum.value == 10 || datum.value == 100 ? format(datum.value, 'd') : ''","labelPadding":12,"title":"Q²","titlePadding":8}},"y":{"field":"r","type":"quantitative","scale":{"domain":[0.85,1.1],"nice":false,"zero":false},"axis":{"orient":"left","values":[0.875,1],"labelExpr":"datum.value == 0.75 || datum.value == 1 || datum.value == 1.25 ? format(datum.value, '~g') : ''","labelPadding":12,"title":null}},"color":{"field":"model","type":"nominal","scale":{"domain":["NLO","NNLO"],"range":["#00ffff","#ff00ff"]},"legend":null},"strokeDash":{"field":"model","type":"nominal","scale":{"domain":["NLO","NNLO"],"range":[[6,4],[1,0]]},"legend":null}}},
 {"data":{"name":"pts"},"transform":[{"filter":"datum.p == '0.055'"}],"mark":{"type":"rule","strokeWidth":1.5,"color":"black","clip":true},"encoding":{"x":{"field":"Q2","type":"quantitative","scale":{"type":"log","domain":[0.5,150],"nice":false},"axis":{"orient":"top","values":[0.5,0.6,0.7,0.8,0.9,1,2,3,4,5,6,7,8,9,10,20,30,40,50,60,70,80,90,100],"labels":false,"title":null}},"y":{"field":"lo","type":"quantitative","scale":{"domain":[0.85,1.1],"nice":false,"zero":false},"axis":{"orient":"right","values":[0.875,1],"labels":false,"title":null}},"y2":{"field":"hi"}}},
 {"data":{"name":"pts"},"transform":[{"filter":"datum.p == '0.055'"}],"mark":{"type":"circle","size":50,"color":"black","opacity":1},"encoding":{"x":{"field":"Q2","type":"quantitative","scale":{"type":"log","domain":[0.5,150],"nice":false},"axis":null},"y":{"field":"r","type":"quantitative","scale":{"domain":[0.85,1.1],"nice":false,"zero":false},"axis":null}}},
 {"data":{"values":[{}]},"mark":{"type":"text","text":"x=0.055","align":"left","baseline":"middle","font":"Liberation Serif","fontWeight":"bold","fontSize":14,"color":"black"},"encoding":{"x":{"datum":0.73,"type":"quantitative","scale":{"type":"log","domain":[0.5,150],"nice":false},"axis":null},"y":{"datum":1.07,"type":"quantitative","scale":{"domain":[0.85,1.1],"nice":false,"zero":false},"axis":null}}}
]},
{"width":153,"height":140,"resolve":{"axis":{"x":"independent","y":"independent"}},"layer":[
 {"data":{"name":"th"},"transform":[{"filter":"datum.p == '0.07'"}],"mark":{"type":"line","strokeWidth":2,"clip":true},"encoding":{"x":{"field":"Q2","type":"quantitative","scale":{"type":"log","domain":[0.5,150],"nice":false},"axis":{"orient":"bottom","values":[0.5,0.6,0.7,0.8,0.9,1,2,3,4,5,6,7,8,9,10,20,30,40,50,60,70,80,90,100],"labelExpr":"datum.value == 1 || datum.value == 10 || datum.value == 100 ? format(datum.value, 'd') : ''","labelPadding":12,"title":"Q²","titlePadding":8}},"y":{"field":"r","type":"quantitative","scale":{"domain":[0.85,1.1],"nice":false,"zero":false},"axis":{"orient":"left","values":[0.875,1],"labelExpr":"datum.value == 0.75 || datum.value == 1 || datum.value == 1.25 ? format(datum.value, '~g') : ''","labelPadding":12,"title":null}},"color":{"field":"model","type":"nominal","scale":{"domain":["NLO","NNLO"],"range":["#00ffff","#ff00ff"]},"legend":null},"strokeDash":{"field":"model","type":"nominal","scale":{"domain":["NLO","NNLO"],"range":[[6,4],[1,0]]},"legend":null}}},
 {"data":{"name":"pts"},"transform":[{"filter":"datum.p == '0.07'"}],"mark":{"type":"rule","strokeWidth":1.5,"color":"black","clip":true},"encoding":{"x":{"field":"Q2","type":"quantitative","scale":{"type":"log","domain":[0.5,150],"nice":false},"axis":{"orient":"top","values":[0.5,0.6,0.7,0.8,0.9,1,2,3,4,5,6,7,8,9,10,20,30,40,50,60,70,80,90,100],"labels":false,"title":null}},"y":{"field":"lo","type":"quantitative","scale":{"domain":[0.85,1.1],"nice":false,"zero":false},"axis":{"orient":"right","values":[0.875,1],"labels":false,"title":null}},"y2":{"field":"hi"}}},
 {"data":{"name":"pts"},"transform":[{"filter":"datum.p == '0.07'"}],"mark":{"type":"circle","size":50,"color":"black","opacity":1},"encoding":{"x":{"field":"Q2","type":"quantitative","scale":{"type":"log","domain":[0.5,150],"nice":false},"axis":null},"y":{"field":"r","type":"quantitative","scale":{"domain":[0.85,1.1],"nice":false,"zero":false},"axis":null}}},
 {"data":{"values":[{}]},"mark":{"type":"text","text":"x=0.07","align":"left","baseline":"middle","font":"Liberation Serif","fontWeight":"bold","fontSize":14,"color":"black"},"encoding":{"x":{"datum":0.73,"type":"quantitative","scale":{"type":"log","domain":[0.5,150],"nice":false},"axis":null},"y":{"datum":1.07,"type":"quantitative","scale":{"domain":[0.85,1.1],"nice":false,"zero":false},"axis":null}}}
]},
{"width":153,"height":140,"resolve":{"axis":{"x":"independent","y":"independent"}},"layer":[
 {"data":{"name":"th"},"transform":[{"filter":"datum.p == '0.09'"}],"mark":{"type":"line","strokeWidth":2,"clip":true},"encoding":{"x":{"field":"Q2","type":"quantitative","scale":{"type":"log","domain":[0.5,150],"nice":false},"axis":{"orient":"bottom","values":[0.5,0.6,0.7,0.8,0.9,1,2,3,4,5,6,7,8,9,10,20,30,40,50,60,70,80,90,100],"labelExpr":"datum.value == 1 || datum.value == 10 || datum.value == 100 ? format(datum.value, 'd') : ''","labelPadding":12,"title":"Q²","titlePadding":8}},"y":{"field":"r","type":"quantitative","scale":{"domain":[0.85,1.1],"nice":false,"zero":false},"axis":{"orient":"left","values":[0.875,1],"labelExpr":"datum.value == 0.75 || datum.value == 1 || datum.value == 1.25 ? format(datum.value, '~g') : ''","labelPadding":12,"title":null}},"color":{"field":"model","type":"nominal","scale":{"domain":["NLO","NNLO"],"range":["#00ffff","#ff00ff"]},"legend":null},"strokeDash":{"field":"model","type":"nominal","scale":{"domain":["NLO","NNLO"],"range":[[6,4],[1,0]]},"legend":null}}},
 {"data":{"name":"pts"},"transform":[{"filter":"datum.p == '0.09'"}],"mark":{"type":"rule","strokeWidth":1.5,"color":"black","clip":true},"encoding":{"x":{"field":"Q2","type":"quantitative","scale":{"type":"log","domain":[0.5,150],"nice":false},"axis":{"orient":"top","values":[0.5,0.6,0.7,0.8,0.9,1,2,3,4,5,6,7,8,9,10,20,30,40,50,60,70,80,90,100],"labels":false,"title":null}},"y":{"field":"lo","type":"quantitative","scale":{"domain":[0.85,1.1],"nice":false,"zero":false},"axis":{"orient":"right","values":[0.875,1],"labels":false,"title":null}},"y2":{"field":"hi"}}},
 {"data":{"name":"pts"},"transform":[{"filter":"datum.p == '0.09'"}],"mark":{"type":"circle","size":50,"color":"black","opacity":1},"encoding":{"x":{"field":"Q2","type":"quantitative","scale":{"type":"log","domain":[0.5,150],"nice":false},"axis":null},"y":{"field":"r","type":"quantitative","scale":{"domain":[0.85,1.1],"nice":false,"zero":false},"axis":null}}},
 {"data":{"values":[{}]},"mark":{"type":"text","text":"x=0.09","align":"left","baseline":"middle","font":"Liberation Serif","fontWeight":"bold","fontSize":14,"color":"black"},"encoding":{"x":{"datum":0.73,"type":"quantitative","scale":{"type":"log","domain":[0.5,150],"nice":false},"axis":null},"y":{"datum":1.07,"type":"quantitative","scale":{"domain":[0.85,1.1],"nice":false,"zero":false},"axis":null}}}
]},
{"width":153,"height":140,"resolve":{"axis":{"x":"independent","y":"independent"}},"layer":[
 {"data":{"name":"th"},"transform":[{"filter":"datum.p == '0.125'"}],"mark":{"type":"line","strokeWidth":2,"clip":true},"encoding":{"x":{"field":"Q2","type":"quantitative","scale":{"type":"log","domain":[0.5,150],"nice":false},"axis":{"orient":"bottom","values":[0.5,0.6,0.7,0.8,0.9,1,2,3,4,5,6,7,8,9,10,20,30,40,50,60,70,80,90,100],"labelExpr":"datum.value == 1 || datum.value == 10 || datum.value == 100 ? format(datum.value, 'd') : ''","labelPadding":12,"title":"Q²","titlePadding":8}},"y":{"field":"r","type":"quantitative","scale":{"domain":[0.65,1.25],"nice":false,"zero":false},"axis":{"orient":"left","values":[0.75,0.875,1,1.125,1.25],"labelExpr":"datum.value == 0.75 || datum.value == 1 || datum.value == 1.25 ? format(datum.value, '~g') : ''","labelPadding":12,"title":null}},"color":{"field":"model","type":"nominal","scale":{"domain":["NLO","NNLO"],"range":["#00ffff","#ff00ff"]},"legend":null},"strokeDash":{"field":"model","type":"nominal","scale":{"domain":["NLO","NNLO"],"range":[[6,4],[1,0]]},"legend":null}}},
 {"data":{"name":"pts"},"transform":[{"filter":"datum.p == '0.125'"}],"mark":{"type":"rule","strokeWidth":1.5,"color":"black","clip":true},"encoding":{"x":{"field":"Q2","type":"quantitative","scale":{"type":"log","domain":[0.5,150],"nice":false},"axis":{"orient":"top","values":[0.5,0.6,0.7,0.8,0.9,1,2,3,4,5,6,7,8,9,10,20,30,40,50,60,70,80,90,100],"labels":false,"title":null}},"y":{"field":"lo","type":"quantitative","scale":{"domain":[0.65,1.25],"nice":false,"zero":false},"axis":{"orient":"right","values":[0.75,0.875,1,1.125,1.25],"labels":false,"title":null}},"y2":{"field":"hi"}}},
 {"data":{"name":"pts"},"transform":[{"filter":"datum.p == '0.125'"}],"mark":{"type":"circle","size":50,"color":"black","opacity":1},"encoding":{"x":{"field":"Q2","type":"quantitative","scale":{"type":"log","domain":[0.5,150],"nice":false},"axis":null},"y":{"field":"r","type":"quantitative","scale":{"domain":[0.65,1.25],"nice":false,"zero":false},"axis":null}}},
 {"data":{"values":[{}]},"mark":{"type":"text","text":"x=0.125","align":"left","baseline":"middle","font":"Liberation Serif","fontWeight":"bold","fontSize":14,"color":"black"},"encoding":{"x":{"datum":0.73,"type":"quantitative","scale":{"type":"log","domain":[0.5,150],"nice":false},"axis":null},"y":{"datum":1.177,"type":"quantitative","scale":{"domain":[0.65,1.25],"nice":false,"zero":false},"axis":null}}}
]},
{"width":153,"height":140,"resolve":{"axis":{"x":"independent","y":"independent"}},"layer":[
 {"data":{"name":"th"},"transform":[{"filter":"datum.p == '0.175'"}],"mark":{"type":"line","strokeWidth":2,"clip":true},"encoding":{"x":{"field":"Q2","type":"quantitative","scale":{"type":"log","domain":[0.5,150],"nice":false},"axis":{"orient":"bottom","values":[0.5,0.6,0.7,0.8,0.9,1,2,3,4,5,6,7,8,9,10,20,30,40,50,60,70,80,90,100],"labelExpr":"datum.value == 1 || datum.value == 10 || datum.value == 100 ? format(datum.value, 'd') : ''","labelPadding":12,"title":"Q²","titlePadding":8}},"y":{"field":"r","type":"quantitative","scale":{"domain":[0.85,1.125],"nice":false,"zero":false},"axis":{"orient":"left","values":[0.875,1,1.125],"labelExpr":"datum.value == 0.75 || datum.value == 1 || datum.value == 1.25 ? format(datum.value, '~g') : ''","labelPadding":12,"title":null}},"color":{"field":"model","type":"nominal","scale":{"domain":["NLO","NNLO"],"range":["#00ffff","#ff00ff"]},"legend":null},"strokeDash":{"field":"model","type":"nominal","scale":{"domain":["NLO","NNLO"],"range":[[6,4],[1,0]]},"legend":null}}},
 {"data":{"name":"pts"},"transform":[{"filter":"datum.p == '0.175'"}],"mark":{"type":"rule","strokeWidth":1.5,"color":"black","clip":true},"encoding":{"x":{"field":"Q2","type":"quantitative","scale":{"type":"log","domain":[0.5,150],"nice":false},"axis":{"orient":"top","values":[0.5,0.6,0.7,0.8,0.9,1,2,3,4,5,6,7,8,9,10,20,30,40,50,60,70,80,90,100],"labels":false,"title":null}},"y":{"field":"lo","type":"quantitative","scale":{"domain":[0.85,1.125],"nice":false,"zero":false},"axis":{"orient":"right","values":[0.875,1,1.125],"labels":false,"title":null}},"y2":{"field":"hi"}}},
 {"data":{"name":"pts"},"transform":[{"filter":"datum.p == '0.175'"}],"mark":{"type":"circle","size":50,"color":"black","opacity":1},"encoding":{"x":{"field":"Q2","type":"quantitative","scale":{"type":"log","domain":[0.5,150],"nice":false},"axis":null},"y":{"field":"r","type":"quantitative","scale":{"domain":[0.85,1.125],"nice":false,"zero":false},"axis":null}}},
 {"data":{"values":[{}]},"mark":{"type":"text","text":"x=0.175","align":"left","baseline":"middle","font":"Liberation Serif","fontWeight":"bold","fontSize":14,"color":"black"},"encoding":{"x":{"datum":0.73,"type":"quantitative","scale":{"type":"log","domain":[0.5,150],"nice":false},"axis":null},"y":{"datum":1.092,"type":"quantitative","scale":{"domain":[0.85,1.125],"nice":false,"zero":false},"axis":null}}}
]},
{"width":153,"height":140,"resolve":{"axis":{"x":"independent","y":"independent"}},"layer":[
 {"data":{"name":"th"},"transform":[{"filter":"datum.p == '0.25'"}],"mark":{"type":"line","strokeWidth":2,"clip":true},"encoding":{"x":{"field":"Q2","type":"quantitative","scale":{"type":"log","domain":[0.5,150],"nice":false},"axis":{"orient":"bottom","values":[0.5,0.6,0.7,0.8,0.9,1,2,3,4,5,6,7,8,9,10,20,30,40,50,60,70,80,90,100],"labelExpr":"datum.value == 1 || datum.value == 10 || datum.value == 100 ? format(datum.value, 'd') : ''","labelPadding":12,"title":"Q²","titlePadding":8}},"y":{"field":"r","type":"quantitative","scale":{"domain":[0.95,1.1],"nice":false,"zero":false},"axis":{"orient":"left","values":[1],"labelExpr":"datum.value == 0.75 || datum.value == 1 || datum.value == 1.25 ? format(datum.value, '~g') : ''","labelPadding":12,"title":null}},"color":{"field":"model","type":"nominal","scale":{"domain":["NLO","NNLO"],"range":["#00ffff","#ff00ff"]},"legend":null},"strokeDash":{"field":"model","type":"nominal","scale":{"domain":["NLO","NNLO"],"range":[[6,4],[1,0]]},"legend":null}}},
 {"data":{"name":"pts"},"transform":[{"filter":"datum.p == '0.25'"}],"mark":{"type":"rule","strokeWidth":1.5,"color":"black","clip":true},"encoding":{"x":{"field":"Q2","type":"quantitative","scale":{"type":"log","domain":[0.5,150],"nice":false},"axis":{"orient":"top","values":[0.5,0.6,0.7,0.8,0.9,1,2,3,4,5,6,7,8,9,10,20,30,40,50,60,70,80,90,100],"labels":false,"title":null}},"y":{"field":"lo","type":"quantitative","scale":{"domain":[0.95,1.1],"nice":false,"zero":false},"axis":{"orient":"right","values":[1],"labels":false,"title":null}},"y2":{"field":"hi"}}},
 {"data":{"name":"pts"},"transform":[{"filter":"datum.p == '0.25'"}],"mark":{"type":"circle","size":50,"color":"black","opacity":1},"encoding":{"x":{"field":"Q2","type":"quantitative","scale":{"type":"log","domain":[0.5,150],"nice":false},"axis":null},"y":{"field":"r","type":"quantitative","scale":{"domain":[0.95,1.1],"nice":false,"zero":false},"axis":null}}},
 {"data":{"values":[{}]},"mark":{"type":"text","text":"x=0.25","align":"left","baseline":"middle","font":"Liberation Serif","fontWeight":"bold","fontSize":14,"color":"black"},"encoding":{"x":{"datum":0.73,"type":"quantitative","scale":{"type":"log","domain":[0.5,150],"nice":false},"axis":null},"y":{"datum":1.082,"type":"quantitative","scale":{"domain":[0.95,1.1],"nice":false,"zero":false},"axis":null}}}
]},
{"width":153,"height":140,"resolve":{"axis":{"x":"independent","y":"independent"}},"layer":[
 {"data":{"name":"th"},"transform":[{"filter":"datum.p == '0.35'"}],"mark":{"type":"line","strokeWidth":2,"clip":true},"encoding":{"x":{"field":"Q2","type":"quantitative","scale":{"type":"log","domain":[0.5,150],"nice":false},"axis":{"orient":"bottom","values":[0.5,0.6,0.7,0.8,0.9,1,2,3,4,5,6,7,8,9,10,20,30,40,50,60,70,80,90,100],"labelExpr":"datum.value == 1 || datum.value == 10 || datum.value == 100 ? format(datum.value, 'd') : ''","labelPadding":12,"title":"Q²","titlePadding":8}},"y":{"field":"r","type":"quantitative","scale":{"domain":[0.82,1.1],"nice":false,"zero":false},"axis":{"orient":"left","values":[0.875,1],"labelExpr":"datum.value == 0.75 || datum.value == 1 || datum.value == 1.25 ? format(datum.value, '~g') : ''","labelPadding":12,"title":null}},"color":{"field":"model","type":"nominal","scale":{"domain":["NLO","NNLO"],"range":["#00ffff","#ff00ff"]},"legend":null},"strokeDash":{"field":"model","type":"nominal","scale":{"domain":["NLO","NNLO"],"range":[[6,4],[1,0]]},"legend":null}}},
 {"data":{"name":"pts"},"transform":[{"filter":"datum.p == '0.35'"}],"mark":{"type":"rule","strokeWidth":1.5,"color":"black","clip":true},"encoding":{"x":{"field":"Q2","type":"quantitative","scale":{"type":"log","domain":[0.5,150],"nice":false},"axis":{"orient":"top","values":[0.5,0.6,0.7,0.8,0.9,1,2,3,4,5,6,7,8,9,10,20,30,40,50,60,70,80,90,100],"labels":false,"title":null}},"y":{"field":"lo","type":"quantitative","scale":{"domain":[0.82,1.1],"nice":false,"zero":false},"axis":{"orient":"right","values":[0.875,1],"labels":false,"title":null}},"y2":{"field":"hi"}}},
 {"data":{"name":"pts"},"transform":[{"filter":"datum.p == '0.35'"}],"mark":{"type":"circle","size":50,"color":"black","opacity":1},"encoding":{"x":{"field":"Q2","type":"quantitative","scale":{"type":"log","domain":[0.5,150],"nice":false},"axis":null},"y":{"field":"r","type":"quantitative","scale":{"domain":[0.82,1.1],"nice":false,"zero":false},"axis":null}}},
 {"data":{"values":[{}]},"mark":{"type":"text","text":"x=0.35","align":"left","baseline":"middle","font":"Liberation Serif","fontWeight":"bold","fontSize":14,"color":"black"},"encoding":{"x":{"datum":0.73,"type":"quantitative","scale":{"type":"log","domain":[0.5,150],"nice":false},"axis":null},"y":{"datum":1.066,"type":"quantitative","scale":{"domain":[0.82,1.1],"nice":false,"zero":false},"axis":null}}}
]},
{"width":153,"height":140,"resolve":{"axis":{"x":"independent","y":"independent"}},"layer":[
 {"data":{"name":"th"},"transform":[{"filter":"datum.p == '0.45'"}],"mark":{"type":"line","strokeWidth":2,"clip":true},"encoding":{"x":{"field":"Q2","type":"quantitative","scale":{"type":"log","domain":[0.5,150],"nice":false},"axis":{"orient":"bottom","values":[0.5,0.6,0.7,0.8,0.9,1,2,3,4,5,6,7,8,9,10,20,30,40,50,60,70,80,90,100],"labelExpr":"datum.value == 1 || datum.value == 10 || datum.value == 100 ? format(datum.value, 'd') : ''","labelPadding":12,"title":"Q²","titlePadding":8}},"y":{"field":"r","type":"quantitative","scale":{"domain":[0.9,1.1],"nice":false,"zero":false},"axis":{"orient":"left","values":[1],"labelExpr":"datum.value == 0.75 || datum.value == 1 || datum.value == 1.25 ? format(datum.value, '~g') : ''","labelPadding":12,"title":null}},"color":{"field":"model","type":"nominal","scale":{"domain":["NLO","NNLO"],"range":["#00ffff","#ff00ff"]},"legend":null},"strokeDash":{"field":"model","type":"nominal","scale":{"domain":["NLO","NNLO"],"range":[[6,4],[1,0]]},"legend":null}}},
 {"data":{"name":"pts"},"transform":[{"filter":"datum.p == '0.45'"}],"mark":{"type":"rule","strokeWidth":1.5,"color":"black","clip":true},"encoding":{"x":{"field":"Q2","type":"quantitative","scale":{"type":"log","domain":[0.5,150],"nice":false},"axis":{"orient":"top","values":[0.5,0.6,0.7,0.8,0.9,1,2,3,4,5,6,7,8,9,10,20,30,40,50,60,70,80,90,100],"labels":false,"title":null}},"y":{"field":"lo","type":"quantitative","scale":{"domain":[0.9,1.1],"nice":false,"zero":false},"axis":{"orient":"right","values":[1],"labels":false,"title":null}},"y2":{"field":"hi"}}},
 {"data":{"name":"pts"},"transform":[{"filter":"datum.p == '0.45'"}],"mark":{"type":"circle","size":50,"color":"black","opacity":1},"encoding":{"x":{"field":"Q2","type":"quantitative","scale":{"type":"log","domain":[0.5,150],"nice":false},"axis":null},"y":{"field":"r","type":"quantitative","scale":{"domain":[0.9,1.1],"nice":false,"zero":false},"axis":null}}},
 {"data":{"values":[{}]},"mark":{"type":"text","text":"x=0.45","align":"left","baseline":"middle","font":"Liberation Serif","fontWeight":"bold","fontSize":14,"color":"black"},"encoding":{"x":{"datum":0.73,"type":"quantitative","scale":{"type":"log","domain":[0.5,150],"nice":false},"axis":null},"y":{"datum":1.076,"type":"quantitative","scale":{"domain":[0.9,1.1],"nice":false,"zero":false},"axis":null}}}
]},
{"width":153,"height":140,"resolve":{"axis":{"x":"independent","y":"independent"}},"layer":[
 {"data":{"name":"th"},"transform":[{"filter":"datum.p == '0.55'"}],"mark":{"type":"line","strokeWidth":2,"clip":true},"encoding":{"x":{"field":"Q2","type":"quantitative","scale":{"type":"log","domain":[0.5,150],"nice":false},"axis":{"orient":"bottom","values":[0.5,0.6,0.7,0.8,0.9,1,2,3,4,5,6,7,8,9,10,20,30,40,50,60,70,80,90,100],"labelExpr":"datum.value == 1 || datum.value == 10 || datum.value == 100 ? format(datum.value, 'd') : ''","labelPadding":12,"title":"Q²","titlePadding":8}},"y":{"field":"r","type":"quantitative","scale":{"domain":[0.8,1.15],"nice":false,"zero":false},"axis":{"orient":"left","values":[0.875,1,1.125],"labelExpr":"datum.value == 0.75 || datum.value == 1 || datum.value == 1.25 ? format(datum.value, '~g') : ''","labelPadding":12,"title":null}},"color":{"field":"model","type":"nominal","scale":{"domain":["NLO","NNLO"],"range":["#00ffff","#ff00ff"]},"legend":null},"strokeDash":{"field":"model","type":"nominal","scale":{"domain":["NLO","NNLO"],"range":[[6,4],[1,0]]},"legend":null}}},
 {"data":{"name":"pts"},"transform":[{"filter":"datum.p == '0.55'"}],"mark":{"type":"rule","strokeWidth":1.5,"color":"black","clip":true},"encoding":{"x":{"field":"Q2","type":"quantitative","scale":{"type":"log","domain":[0.5,150],"nice":false},"axis":{"orient":"top","values":[0.5,0.6,0.7,0.8,0.9,1,2,3,4,5,6,7,8,9,10,20,30,40,50,60,70,80,90,100],"labels":false,"title":null}},"y":{"field":"lo","type":"quantitative","scale":{"domain":[0.8,1.15],"nice":false,"zero":false},"axis":{"orient":"right","values":[0.875,1,1.125],"labels":false,"title":null}},"y2":{"field":"hi"}}},
 {"data":{"name":"pts"},"transform":[{"filter":"datum.p == '0.55'"}],"mark":{"type":"circle","size":50,"color":"black","opacity":1},"encoding":{"x":{"field":"Q2","type":"quantitative","scale":{"type":"log","domain":[0.5,150],"nice":false},"axis":null},"y":{"field":"r","type":"quantitative","scale":{"domain":[0.8,1.15],"nice":false,"zero":false},"axis":null}}},
 {"data":{"values":[{}]},"mark":{"type":"text","text":"x=0.55","align":"left","baseline":"middle","font":"Liberation Serif","fontWeight":"bold","fontSize":14,"color":"black"},"encoding":{"x":{"datum":0.73,"type":"quantitative","scale":{"type":"log","domain":[0.5,150],"nice":false},"axis":null},"y":{"datum":1.1075,"type":"quantitative","scale":{"domain":[0.8,1.15],"nice":false,"zero":false},"axis":null}}}
]},
{"width":153,"height":140,"resolve":{"axis":{"x":"independent","y":"independent"}},"layer":[
 {"data":{"name":"th"},"transform":[{"filter":"datum.p == '0.7'"}],"mark":{"type":"line","strokeWidth":2,"clip":true},"encoding":{"x":{"field":"Q2","type":"quantitative","scale":{"type":"log","domain":[0.5,150],"nice":false},"axis":{"orient":"bottom","values":[0.5,0.6,0.7,0.8,0.9,1,2,3,4,5,6,7,8,9,10,20,30,40,50,60,70,80,90,100],"labelExpr":"datum.value == 1 || datum.value == 10 || datum.value == 100 ? format(datum.value, 'd') : ''","labelPadding":12,"title":"Q²","titlePadding":8}},"y":{"field":"r","type":"quantitative","scale":{"domain":[0.7,1.1],"nice":false,"zero":false},"axis":{"orient":"left","values":[0.75,0.875,1],"labelExpr":"datum.value == 0.75 || datum.value == 1 || datum.value == 1.25 ? format(datum.value, '~g') : ''","labelPadding":12,"title":null}},"color":{"field":"model","type":"nominal","scale":{"domain":["NLO","NNLO"],"range":["#00ffff","#ff00ff"]},"legend":null},"strokeDash":{"field":"model","type":"nominal","scale":{"domain":["NLO","NNLO"],"range":[[6,4],[1,0]]},"legend":null}}},
 {"data":{"name":"pts"},"transform":[{"filter":"datum.p == '0.7'"}],"mark":{"type":"rule","strokeWidth":1.5,"color":"black","clip":true},"encoding":{"x":{"field":"Q2","type":"quantitative","scale":{"type":"log","domain":[0.5,150],"nice":false},"axis":{"orient":"top","values":[0.5,0.6,0.7,0.8,0.9,1,2,3,4,5,6,7,8,9,10,20,30,40,50,60,70,80,90,100],"labels":false,"title":null}},"y":{"field":"lo","type":"quantitative","scale":{"domain":[0.7,1.1],"nice":false,"zero":false},"axis":{"orient":"right","values":[0.75,0.875,1],"labels":false,"title":null}},"y2":{"field":"hi"}}},
 {"data":{"name":"pts"},"transform":[{"filter":"datum.p == '0.7'"}],"mark":{"type":"circle","size":50,"color":"black","opacity":1},"encoding":{"x":{"field":"Q2","type":"quantitative","scale":{"type":"log","domain":[0.5,150],"nice":false},"axis":null},"y":{"field":"r","type":"quantitative","scale":{"domain":[0.7,1.1],"nice":false,"zero":false},"axis":null}}},
 {"data":{"values":[{}]},"mark":{"type":"text","text":"x=0.7","align":"left","baseline":"middle","font":"Liberation Serif","fontWeight":"bold","fontSize":14,"color":"black"},"encoding":{"x":{"datum":0.73,"type":"quantitative","scale":{"type":"log","domain":[0.5,150],"nice":false},"axis":null},"y":{"datum":1.051,"type":"quantitative","scale":{"domain":[0.7,1.1],"nice":false,"zero":false},"axis":null}}}
]}
]
}
